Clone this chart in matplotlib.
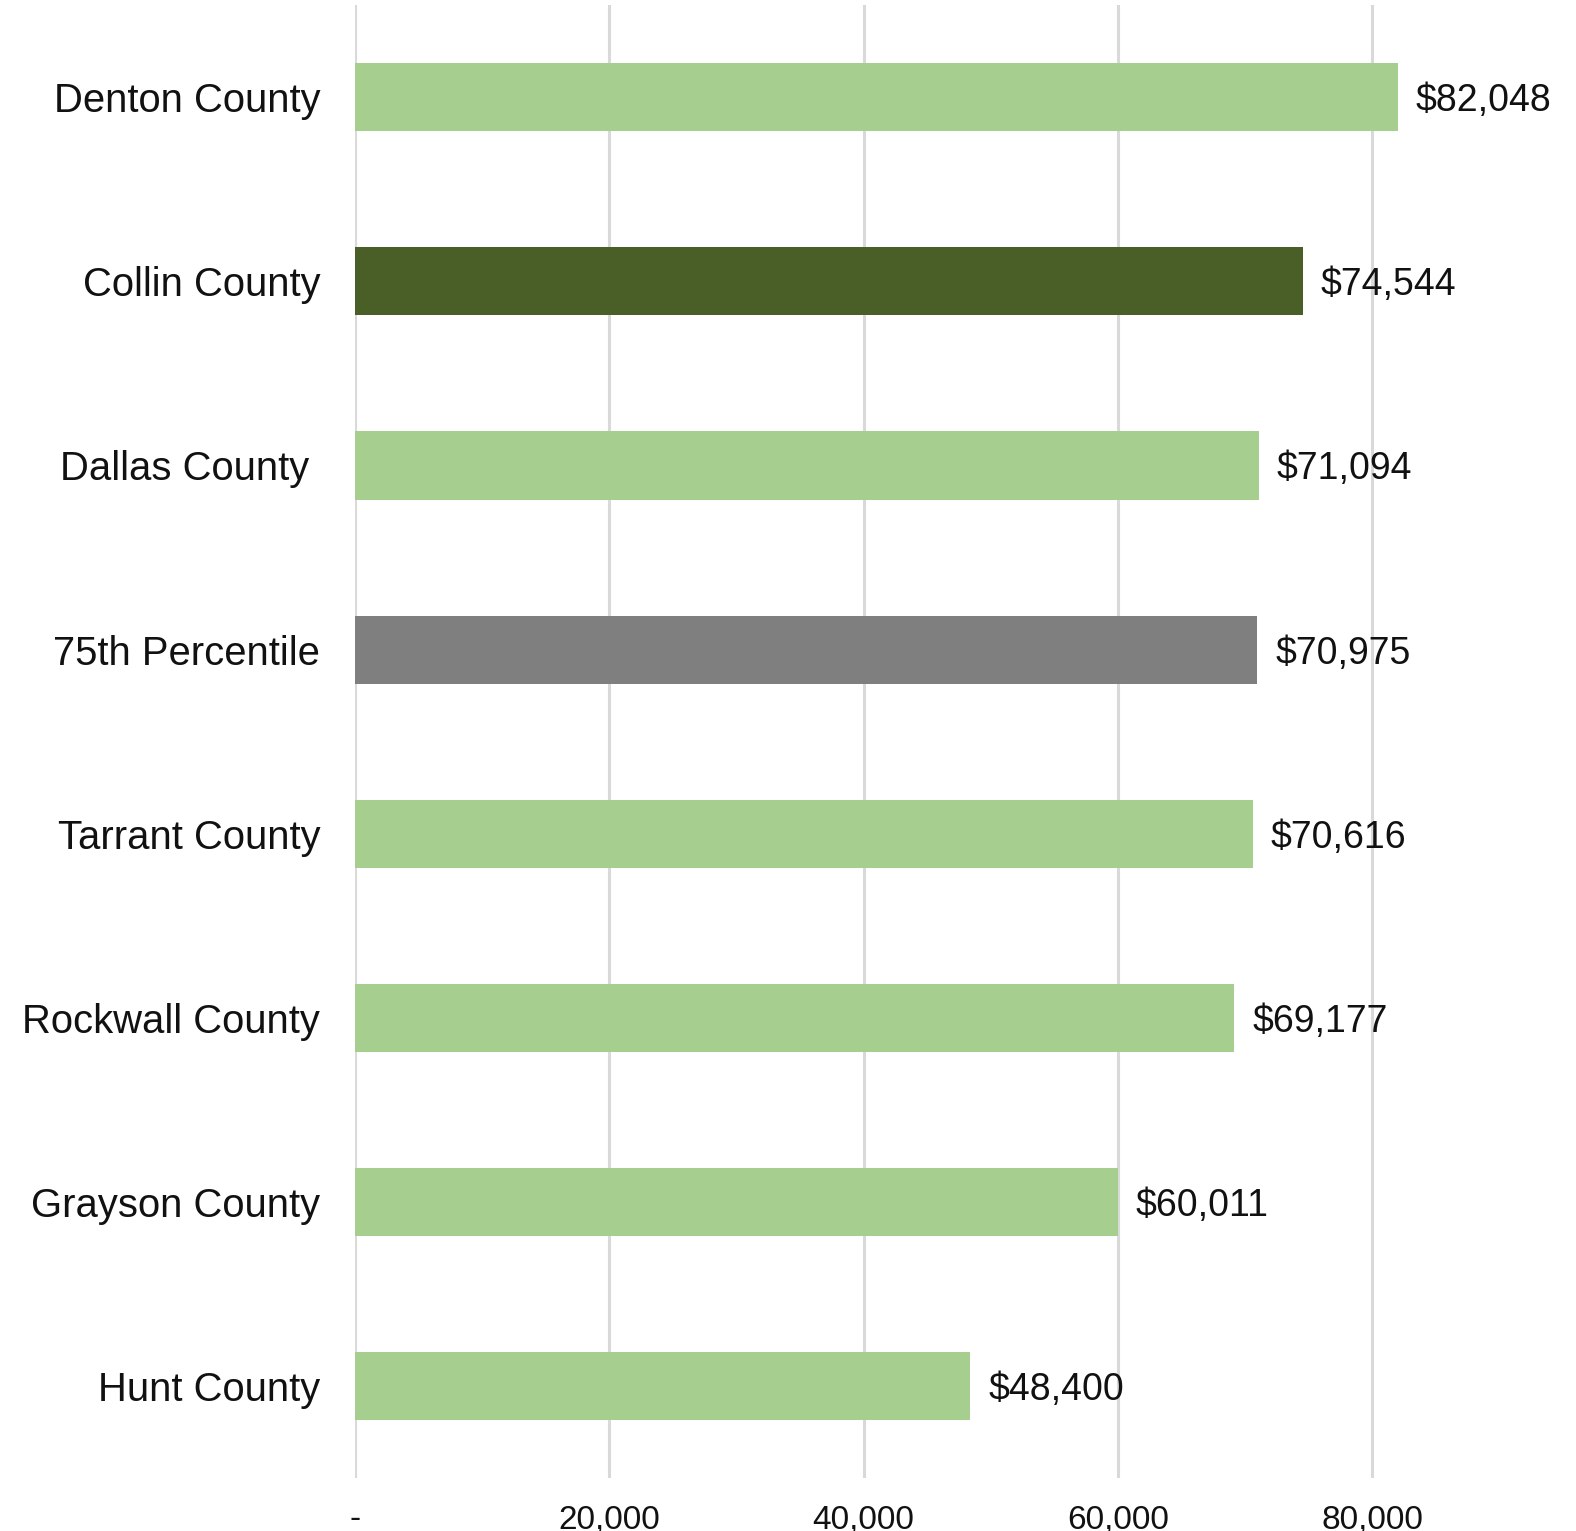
import matplotlib
matplotlib.use("Agg")
import matplotlib.pyplot as plt
from matplotlib.ticker import FuncFormatter

# Median household income by county (top to bottom)
condados = ["Denton County", "Collin County", "Dallas County ", "75th Percentile",
            "Tarrant County", "Rockwall County", "Grayson County", "Hunt County"]
ingresos = [82048, 74544, 71094, 70975, 70616, 69177, 60011, 48400]
colores = ["#A6CE8F", "#4A5F28", "#A6CE8F", "#7F7F7F",
           "#A6CE8F", "#A6CE8F", "#A6CE8F", "#A6CE8F"]
ticks_x = [0, 20000, 40000, 60000, 80000]

plt.rcParams["font.family"] = ["Liberation Sans", "DejaVu Sans"]

fig = plt.figure(figsize=(15.76, 15.31), dpi=100)
ax = fig.add_axes([0.2253, 0.0346, 0.7747, 0.962])

pos = list(range(len(condados)))
ax.barh(pos, ingresos, height=0.37, color=colores, zorder=3)

for y, v in zip(pos, ingresos):
    ax.text(v + 1400, y, f"${v:,}", va="center_baseline", ha="left",
            fontsize=27, color="#111111")

ax.set_ylim(len(condados) - 0.5, -0.5)
ax.set_xlim(0, 96050)
ax.set_yticks(pos)
ax.set_yticklabels(condados, fontsize=28.8, color="#111111")
ax.set_xticks(ticks_x)
ax.xaxis.set_major_formatter(FuncFormatter(lambda x, p: "-" if x == 0 else f"{x:,.0f}"))
ax.tick_params(axis="x", length=0, labelsize=24, pad=19, colors="#111111")
ax.tick_params(axis="y", length=0, pad=25)

ax.grid(axis="x", color="#D9D9D9", linewidth=2.2, zorder=0)
for s in ax.spines.values():
    s.set_visible(False)

fig.savefig("out.png", dpi=100)
